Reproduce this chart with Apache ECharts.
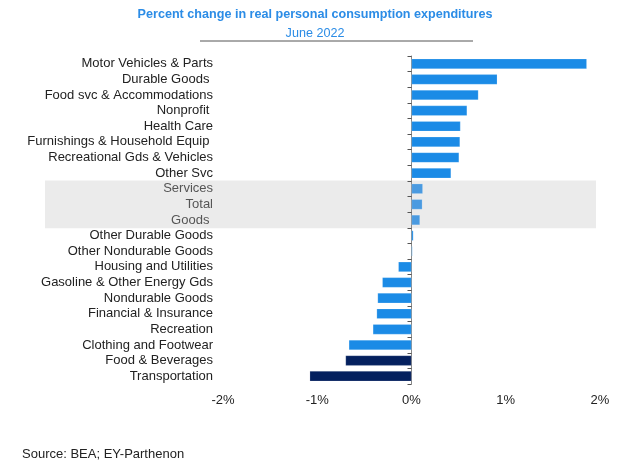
<!DOCTYPE html>
<html>
<head>
<meta charset="utf-8">
<script src="https://cdn.jsdelivr.net/npm/echarts@6/dist/echarts.min.js"></script>
<style>html,body{margin:0;padding:0;background:#fff;}#c{width:630px;height:465px;}</style>
</head>
<body>
<div id="c"></div>
<script>
var categories = ["Motor Vehicles & Parts","Durable Goods ","Food svc & Accommodations","Nonprofit ","Health Care","Furnishings & Household Equip ","Recreational Gds & Vehicles","Other Svc","Services","Total","Goods ","Other Durable Goods","Other Nondurable Goods","Housing and Utilities","Gasoline & Other Energy Gds","Nondurable Goods","Financial & Insurance","Recreation","Clothing and Footwear","Food & Beverages","Transportation"];
var values = [1.86,0.91,0.71,0.59,0.52,0.515,0.505,0.42,0.12,0.115,0.09,0.02,0.01,-0.14,-0.31,-0.36,-0.37,-0.41,-0.665,-0.70,-1.08];
var highlighted = ["Services","Total","Goods "];
var darkCats = ["Food & Beverages","Transportation"];
var xTicks = [-2,-1,0,1,2];

var chart = echarts.init(document.getElementById('c'), null, {renderer:'canvas'});
var font = 'Liberation Sans, Arial, sans-serif';
var data = categories.map(function(c,i){
  var col = '#1b8be6';
  if (highlighted.indexOf(c) >= 0) col = '#4a9ae0';
  if (darkCats.indexOf(c) >= 0) col = '#04205e';
  return {value: values[i], itemStyle:{color:col}};
});
var option = {
  animation:false,
  title:{
    text:'Percent change in real personal consumption expenditures',
    subtext:'June 2022',
    left:'center', top:3, itemGap:6,
    textStyle:{color:'#2b8ce6', fontSize:12.6, fontWeight:'bold', fontFamily:font},
    subtextStyle:{color:'#2b8ce6', fontSize:12.6, fontFamily:font}
  },
  grid:{left:223, right:30, top:56, bottom:81, containLabel:false},
  xAxis:{
    type:'value', min:xTicks[0], max:xTicks[xTicks.length-1], interval:1,
    axisLine:{show:false}, axisTick:{show:false}, splitLine:{show:false},
    axisLabel:{formatter:function(v){return v+'%';}, color:'#222', fontSize:13, fontFamily:font, margin:10}
  },
  yAxis:[{
    type:'category', data:categories, inverse:true,
    axisLine:{show:false, onZero:false}, axisTick:{show:false},
    axisLabel:{interval:0, margin:10, fontSize:13, fontFamily:font,
      color:function(v){return highlighted.indexOf(v)>=0 ? '#555' : '#222';}}
  },{
    type:'category', data:categories, inverse:true, position:'left',
    axisLine:{show:true, onZero:true, lineStyle:{color:'#888', width:1}},
    axisTick:{show:true, interval:0, length:4, lineStyle:{color:'#555'}},
    axisLabel:{show:false}
  }],
  series:[{
    type:'bar', yAxisIndex:0, data:data, barWidth:'65%', z:3,
    itemStyle:{borderColor:'rgba(255,255,255,0.35)', borderWidth:0.5}
  }]
};
chart.setOption(option);

var top1 = chart.convertToPixel({yAxisIndex:0}, highlighted[0]);
var bot1 = chart.convertToPixel({yAxisIndex:0}, highlighted[2]);
var band = (bot1 - top1)/2;
var x2 = chart.convertToPixel({xAxisIndex:0}, 2);
chart.setOption({graphic:[
  {type:'rect', z:-1, silent:true, shape:{x:45, y:top1-band/2-0.5, width:x2-4-45, height:(bot1-top1)+band+1}, style:{fill:'#ebebeb'}},
  {type:'line', silent:true, shape:{x1:200, y1:41, x2:473, y2:41}, style:{stroke:'#555', lineWidth:1}},
  {type:'text', left:22, top:448, style:{text:'Source: BEA; EY-Parthenon', fill:'#222', font:'13px ' + font, verticalAlign:'middle'}}
]});
</script>
</body>
</html>
